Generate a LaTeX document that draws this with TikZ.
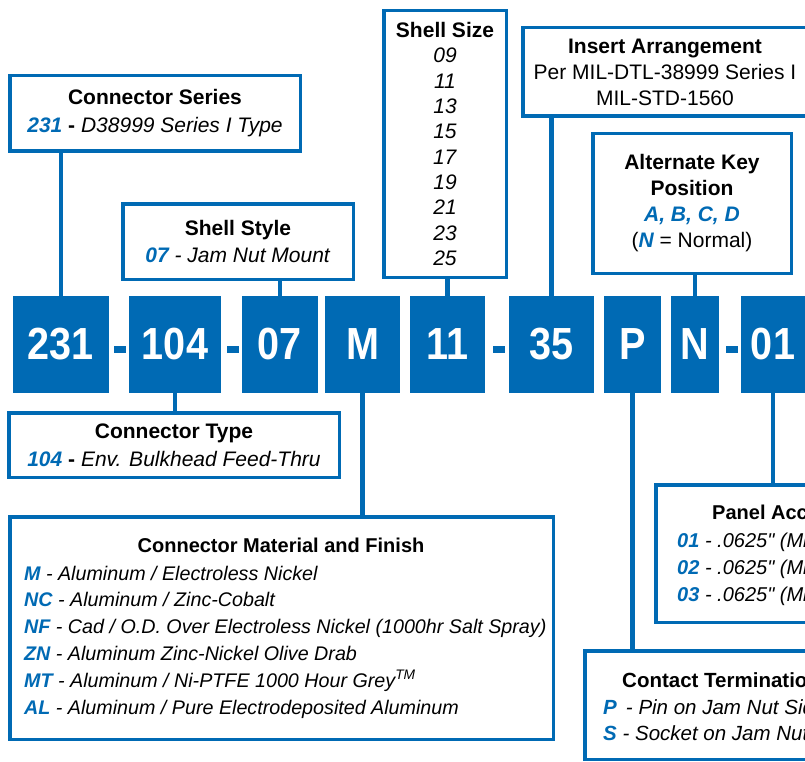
\documentclass[tikz,border=0pt]{standalone}
\usepackage{fontspec}
\setmainfont{Liberation Sans}[Ligatures=TeXOff]
\newfontfamily\codefont[FakeStretch=0.88]{Liberation Sans}
\usetikzlibrary{positioning}

\definecolor{partblue}{RGB}{0,106,180}
\newcommand{\pc}[1]{\textcolor{partblue}{\bfseries\itshape #1}}
\newcommand{\txt}[1]{\fontsize{21}{#1}\selectfont}

\tikzset{
  code/.style={fill=partblue, text=white, inner sep=0pt, minimum height=97,
    font=\codefont\fontsize{45}{45}\selectfont\bfseries},
  dashbar/.style={fill=partblue, inner sep=0pt, minimum width=12, minimum height=7},
  info/.style={draw=partblue, line width=3.5pt, fill=white, inner sep=0pt, align=center},
  plain/.style={inner sep=0pt, align=left},
  lead/.style={draw=partblue, line width=4.5pt}
}

\begin{document}
\begin{tikzpicture}[x=1pt,y=-1pt]
\useasboundingbox (0,0) rectangle (805,762);
\clip (0,0) rectangle (805,762);

% part number blocks
\node[code, minimum width=96] (c231) at (61,344.5) {231};
\node[code, minimum width=92] (c104) at (175,344.5) {104};
\node[code, minimum width=76] (c07) at (280,344.5) {07};
\node[code, minimum width=75] (cM) at (362.5,344.5) {M};
\node[code, minimum width=75] (c11) at (447.5,344.5) {11};
\node[code, minimum width=85] (c35) at (551.5,344.5) {35};
\node[code, minimum width=57] (cP) at (632.5,344.5) {P};
\node[code, minimum width=48] (cN) at (695,344.5) {N};
\node[code, minimum width=64] (c01) at (773,344.5) {01};

\node[dashbar] (d1) at (120,349) {};
\node[dashbar] (d2) at (232.5,349) {};
\node[dashbar] (d3) at (498.5,349) {};
\node[dashbar] (d4) at (731.5,349) {};

% boxes above
\node[info, minimum width=290.5, minimum height=75.5, font=\txt{28}] (ser) at (155,113.5)
  {\textbf{Connector Series}\\ \pc{231} \textbf{-} \textit{D38999 Series I Type}};
\node[info, minimum width=230.5, minimum height=75.5, font=\txt{27}] (sty) at (238,241.5)
  {\textbf{Shell Style}\\ \pc{07} \textit{- Jam Nut Mount}};
\node[info, minimum width=122.5, minimum height=266.5, font=\txt{25.3}] (siz) at (445,144)
  {\textbf{Shell Size}\\ \textit{09}\\ \textit{11}\\ \textit{13}\\ \textit{15}\\ \textit{17}\\ \textit{19}\\ \textit{21}\\ \textit{23}\\ \textit{25}};
\node[info, minimum width=284.5, minimum height=88.5, font=\txt{26}] (ins) at (665,72)
  {\textbf{Insert Arrangement}\\ Per MIL-DTL-38999 Series I\\ MIL-STD-1560};
\node[info, minimum width=198.5, minimum height=139.5, font=\txt{26}] (key) at (692,203.5)
  {\textbf{Alternate Key}\\ \textbf{Position}\\ \pc{A, B, C, D}\\ (\pc{N} = Normal)};

% boxes below
\node[info, minimum width=330.5, minimum height=64.5, font=\txt{28}] (typ) at (174,445)
  {\textbf{Connector Type}\\ \pc{104} \textbf{-} \textit{Env. Bulkhead Feed-Thru}};
\node[info, minimum width=543.5, minimum height=222.5] (mat) at (281.5,628) {};
\node[plain, font=\fontsize{20}{26}\selectfont\bfseries] (mattitle) at (281,545) {Connector Material and Finish};
\node[plain, anchor=west, font=\fontsize{19.7}{26.8}\selectfont\itshape] (matlist) at (24,642)
  {\pc{M} - Aluminum / Electroless Nickel\\
   \pc{NC} - Aluminum / Zinc-Cobalt\\
   \pc{NF} - Cad / O.D. Over Electroless Nickel (1000hr Salt Spray)\\
   \pc{ZN} - Aluminum Zinc-Nickel Olive Drab\\
   \pc{MT} - Aluminum / Ni-PTFE 1000 Hour Grey\textsuperscript{TM}\\
   \pc{AL} - Aluminum / Pure Electrodeposited Aluminum};
\node[info, minimum width=242.5, minimum height=137.5] (pan) at (777,553.5) {};
\node[plain, anchor=west, font=\fontsize{20}{26}\selectfont\bfseries] (pantitle) at (712,512) {Panel Accommodation};
\node[plain, anchor=west, font=\fontsize{20}{27}\selectfont\itshape] (panlist) at (677,569)
  {\pc{01} - .0625" (Min.)\\ \pc{02} - .0625" (Min.)\\ \pc{03} - .0625" (Min.)};
\node[info, minimum width=300, minimum height=108.5] (con) at (735,705) {};
\node[plain, anchor=west, font=\fontsize{20.5}{26}\selectfont\bfseries] (contitle) at (622,680) {Contact Termination};
\node[plain, anchor=west, font=\fontsize{20.5}{26}\selectfont\itshape] (conlist) at (603,720)
  {\pc{P}\, - Pin on Jam Nut Side\\ \pc{S} - Socket on Jam Nut Side};

% leads
\draw[lead] (ser.south -| c231.north) -- (c231.north);
\draw[lead] (sty.south -| c07.north) -- (c07.north);
\draw[lead] (siz.south -| c11.north) -- (c11.north);
\draw[lead] (ins.south -| c35.north) -- (c35.north);
\draw[lead] (key.south -| cN.north) -- (cN.north);
\draw[lead] (c104.south) -- (c104.south |- typ.north);
\draw[lead] (cM.south) -- (cM.south |- mat.north);
\draw[lead] (cP.south) -- (cP.south |- con.north);
\draw[lead] (c01.south) -- (c01.south |- pan.north);
\end{tikzpicture}
\end{document}
